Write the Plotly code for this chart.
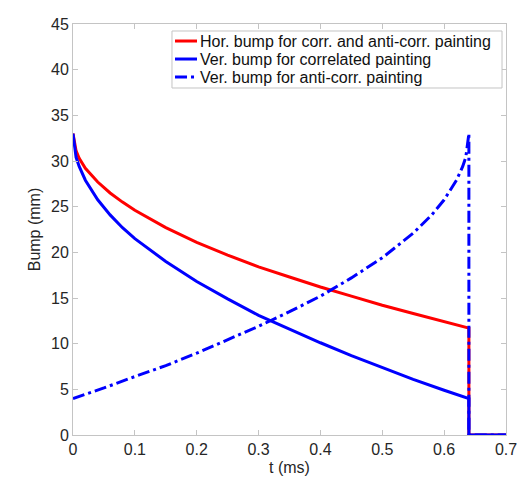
import plotly.graph_objects as go

# Time samples (ms)
t_main = [0, 0.005, 0.01, 0.02, 0.04, 0.06, 0.08, 0.1, 0.15, 0.2, 0.25, 0.3,
          0.35, 0.4, 0.45, 0.5, 0.55, 0.6, 0.64]
# Horizontal bump (corr. & anti-corr.)
hor_bump = [33, 31.1, 30.3, 29.2, 27.7, 26.5, 25.5, 24.6, 22.7, 21.1, 19.7, 18.4,
            17.3, 16.2, 15.2, 14.2, 13.3, 12.4, 11.7]
# Vertical bump, correlated painting
ver_corr = [33, 30.4, 29.4, 27.9, 25.75, 24.1, 22.7, 21.5, 19.0, 16.8, 14.9, 13.1,
            11.6, 10.1, 8.7, 7.4, 6.1, 4.9, 4.0]
# Vertical bump, anti-correlated painting
t_anti = [0, 0.05, 0.1, 0.15, 0.2, 0.25, 0.3, 0.35, 0.4, 0.45, 0.5, 0.55,
          0.58, 0.6, 0.62, 0.63, 0.635, 0.64]
ver_anti = [4.0, 5.15, 6.4, 7.6, 8.96, 10.4, 11.9, 13.5, 15.2, 17.2, 19.4, 22.1,
            24.1, 25.75, 27.9, 29.4, 30.4, 33]
# Switch-off tail
t_tail = [0.64, 0.7]
tail = [0, 0]

names = ["Hor. bump for corr. and anti-corr. painting",
         "Ver. bump for correlated painting",
         "Ver. bump for anti-corr. painting"]
colors = ["#ff0000", "#0000ff", "#0000ff"]
dashes = ["solid", "solid", "12px,4px,3px,4px"]

fig = go.Figure()
fig.add_trace(go.Scatter(x=t_main + t_tail, y=hor_bump + tail, mode="lines",
                         name=names[0], line=dict(color=colors[0], width=3)))
fig.add_trace(go.Scatter(x=t_main + t_tail, y=ver_corr + tail, mode="lines",
                         name=names[1], line=dict(color=colors[1], width=3)))
fig.add_trace(go.Scatter(x=t_anti + t_tail, y=ver_anti + tail, mode="lines",
                         name=names[2],
                         line=dict(color=colors[2], width=3, dash=dashes[2])))

axis_common = dict(showline=True, linecolor="#c4c4c4", linewidth=1, mirror="ticks",
                   ticks="inside", ticklen=5, tickcolor="#c4c4c4", showgrid=False,
                   zeroline=False, automargin=False,
                   tickfont=dict(size=16, color="#262626"))

# Legend drawn as a compact MATLAB-style box
box = dict(x0=0.2286, x1=0.9908, y0=0.8443, y1=0.983)
row_y = [0.9586, 0.9148, 0.8710]
shapes = [dict(type="rect", xref="paper", yref="paper", line=dict(color="#c4c4c4", width=1),
               fillcolor="white", layer="above", **box)]
annotations = []
for name, col, dsh, yy in zip(names, colors, dashes, row_y):
    shapes.append(dict(type="line", xref="paper", yref="paper", x0=0.2356, x1=0.2864,
                       y0=yy, y1=yy, line=dict(color=col, width=3, dash=dsh), layer="above"))
    annotations.append(dict(xref="paper", yref="paper", x=0.2887, y=yy, text=name,
                            showarrow=False, xanchor="left", yanchor="middle",
                            font=dict(size=16, color="#111111")))

fig.update_layout(
    width=515, height=469,
    margin=dict(l=65, r=17, t=16, b=42),
    paper_bgcolor="white", plot_bgcolor="white",
    font=dict(family="Liberation Sans, Arial, sans-serif", color="#262626"),
    xaxis=dict(range=[0, 0.7], tickvals=[0, 0.1, 0.2, 0.3, 0.4, 0.5, 0.6, 0.7],
               ticktext=["0", "0.1", "0.2", "0.3", "0.4", "0.5", "0.6", "0.7"],
               title=dict(text="t (ms)", font=dict(size=16), standoff=4), **axis_common),
    yaxis=dict(range=[0, 45], tickvals=list(range(0, 46, 5)),
               title=dict(text="Bump (mm)", font=dict(size=16), standoff=6), **axis_common),
    shapes=shapes, annotations=annotations,
    showlegend=False,
)

fig.write_html("out.html")
